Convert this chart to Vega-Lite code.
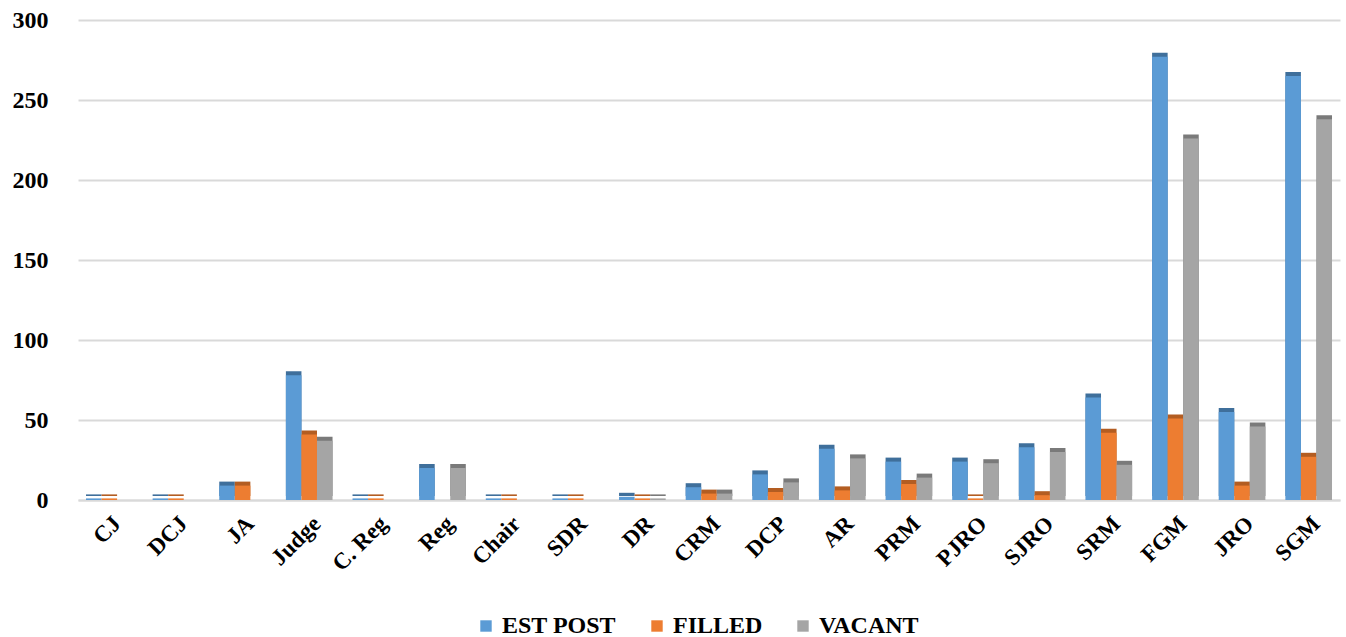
{
  "$schema": "https://vega.github.io/schema/vega-lite/v6.json",
  "width": 1262,
  "height": 480,
  "autosize": {"type": "none"},
  "padding": {"left": 78, "top": 20, "right": 6, "bottom": 137},
  "background": "white",
  "data": {
    "values": [
      {"cat": "CJ", "series": "EST POST", "value": 1},
      {"cat": "CJ", "series": "FILLED", "value": 1},
      {"cat": "CJ", "series": "VACANT", "value": 0},
      {"cat": "DCJ", "series": "EST POST", "value": 1},
      {"cat": "DCJ", "series": "FILLED", "value": 1},
      {"cat": "DCJ", "series": "VACANT", "value": 0},
      {"cat": "JA", "series": "EST POST", "value": 9},
      {"cat": "JA", "series": "FILLED", "value": 9},
      {"cat": "JA", "series": "VACANT", "value": 0},
      {"cat": "Judge", "series": "EST POST", "value": 78},
      {"cat": "Judge", "series": "FILLED", "value": 41},
      {"cat": "Judge", "series": "VACANT", "value": 37},
      {"cat": "C. Reg", "series": "EST POST", "value": 1},
      {"cat": "C. Reg", "series": "FILLED", "value": 1},
      {"cat": "C. Reg", "series": "VACANT", "value": 0},
      {"cat": "Reg", "series": "EST POST", "value": 20},
      {"cat": "Reg", "series": "FILLED", "value": 0},
      {"cat": "Reg", "series": "VACANT", "value": 20},
      {"cat": "Chair", "series": "EST POST", "value": 1},
      {"cat": "Chair", "series": "FILLED", "value": 1},
      {"cat": "Chair", "series": "VACANT", "value": 0},
      {"cat": "SDR", "series": "EST POST", "value": 1},
      {"cat": "SDR", "series": "FILLED", "value": 1},
      {"cat": "SDR", "series": "VACANT", "value": 0},
      {"cat": "DR", "series": "EST POST", "value": 2},
      {"cat": "DR", "series": "FILLED", "value": 1},
      {"cat": "DR", "series": "VACANT", "value": 1},
      {"cat": "CRM", "series": "EST POST", "value": 8},
      {"cat": "CRM", "series": "FILLED", "value": 4},
      {"cat": "CRM", "series": "VACANT", "value": 4},
      {"cat": "DCP", "series": "EST POST", "value": 16},
      {"cat": "DCP", "series": "FILLED", "value": 5},
      {"cat": "DCP", "series": "VACANT", "value": 11},
      {"cat": "AR", "series": "EST POST", "value": 32},
      {"cat": "AR", "series": "FILLED", "value": 6},
      {"cat": "AR", "series": "VACANT", "value": 26},
      {"cat": "PRM", "series": "EST POST", "value": 24},
      {"cat": "PRM", "series": "FILLED", "value": 10},
      {"cat": "PRM", "series": "VACANT", "value": 14},
      {"cat": "PJRO", "series": "EST POST", "value": 24},
      {"cat": "PJRO", "series": "FILLED", "value": 1},
      {"cat": "PJRO", "series": "VACANT", "value": 23},
      {"cat": "SJRO", "series": "EST POST", "value": 33},
      {"cat": "SJRO", "series": "FILLED", "value": 3},
      {"cat": "SJRO", "series": "VACANT", "value": 30},
      {"cat": "SRM", "series": "EST POST", "value": 64},
      {"cat": "SRM", "series": "FILLED", "value": 42},
      {"cat": "SRM", "series": "VACANT", "value": 22},
      {"cat": "FGM", "series": "EST POST", "value": 277},
      {"cat": "FGM", "series": "FILLED", "value": 51},
      {"cat": "FGM", "series": "VACANT", "value": 226},
      {"cat": "JRO", "series": "EST POST", "value": 55},
      {"cat": "JRO", "series": "FILLED", "value": 9},
      {"cat": "JRO", "series": "VACANT", "value": 46},
      {"cat": "SGM", "series": "EST POST", "value": 265},
      {"cat": "SGM", "series": "FILLED", "value": 27},
      {"cat": "SGM", "series": "VACANT", "value": 238}
    ]
  },
  "encoding": {
    "x": {
      "field": "cat",
      "type": "nominal",
      "sort": null,
      "title": null,
      "scale": {"paddingInner": 0.3, "paddingOuter": 0.12},
      "axis": {
        "labelAngle": -45,
        "labelFont": "Liberation Serif",
        "labelFontSize": 23,
        "labelFontWeight": "bold",
        "labelColor": "#000000",
        "labelPadding": 12,
        "ticks": false,
        "domainColor": "#d9d9d9",
        "domainWidth": 2
      }
    },
    "xOffset": {"field": "series", "type": "nominal", "scale": {"padding": 0}},
    "y": {
      "field": "value",
      "type": "quantitative",
      "title": null,
      "scale": {"domain": [0, 300]},
      "axis": {
        "values": [0, 50, 100, 150, 200, 250, 300],
        "labelFont": "Liberation Serif",
        "labelFontSize": 24,
        "labelFontWeight": "bold",
        "labelColor": "#000000",
        "labelPadding": 30,
        "ticks": false,
        "domain": false,
        "gridColor": "#d9d9d9",
        "gridWidth": 2
      }
    }
  },
  "layer": [
    {
      "mark": {"type": "bar", "xOffset": 4, "yOffset": -4},
      "encoding": {
        "color": {
          "field": "series",
          "type": "nominal",
          "scale": {
            "domain": ["EST POST", "FILLED", "VACANT"],
            "range": ["#3f6f9b", "#b35d22", "#7a7a7a"]
          },
          "legend": null
        }
      }
    },
    {
      "mark": {"type": "bar"},
      "encoding": {
        "color": {
          "field": "series",
          "type": "nominal",
          "title": null,
          "scale": {
            "domain": ["EST POST", "FILLED", "VACANT"],
            "range": ["#5b9bd5", "#ed7d31", "#a5a5a5"]
          },
          "legend": {
            "orient": "none",
            "direction": "horizontal",
            "legendX": 396,
            "legendY": 594,
            "symbolType": "square",
            "symbolSize": 130,
            "symbolStrokeWidth": 0,
            "labelFont": "Liberation Serif",
            "labelFontSize": 24,
            "labelFontWeight": "bold",
            "labelColor": "#000000",
            "columnPadding": 28,
            "labelOffset": 4
          }
        }
      }
    }
  ],
  "resolve": {"scale": {"color": "independent"}, "legend": {"color": "independent"}},
  "config": {
    "font": "Liberation Serif",
    "view": {"stroke": null},
    "legend": {"labelFont": "Liberation Serif", "labelFontWeight": "bold", "labelFontSize": 24}
  }
}
